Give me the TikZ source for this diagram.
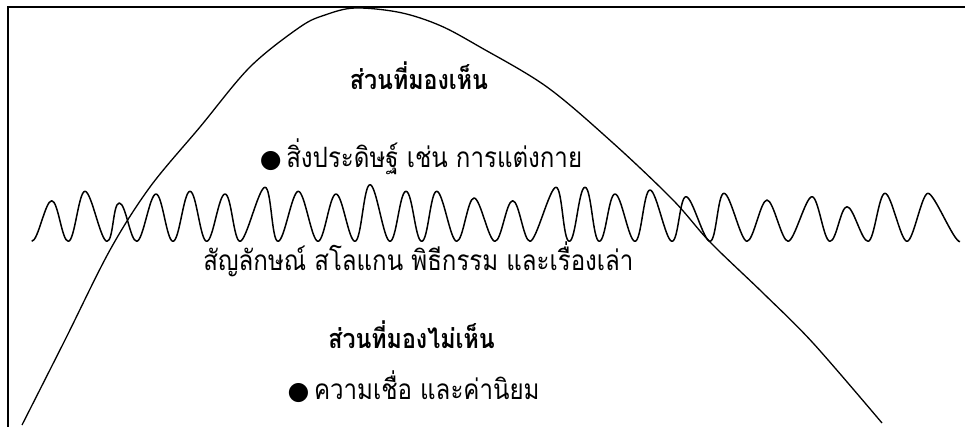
\documentclass[tikz,border=0pt]{standalone}
\usepackage{fontspec}
\newfontfamily\thai[Script=Thai,FakeStretch=0.86]{Loma}
\newfontfamily\dejavu{DejaVu Sans}
\begin{document}
\begin{tikzpicture}[x=1pt,y=-1pt,
  frame/.style={line width=2pt,black},
  bell/.style={line width=1.3pt,black},
  wave/.style={line width=1.5pt,black,line join=round},
  txt/.style={inner sep=0pt,anchor=base,font=\thai\fontsize{28}{32}\selectfont},
  hd/.style={txt,font=\thai\bfseries\fontsize{27}{32}\selectfont},
  dot/.style={font=\dejavu\fontsize{26}{30}\selectfont}]
\useasboundingbox (0,0) rectangle (965,427);
\fill[white] (0,0) rectangle (965,427);
\draw[frame] (8,427) -- (8,7) -- (965,7);
\draw[bell] plot[smooth,tension=0.55] coordinates {(22,425) (65,340) (110,250) (150,187) (200,127) (250,67) (300,27) (325,15) (355,8) (400,12.5) (440,25.5) (480,47) (547,87) (613,143) (673,200) (710,242) (763,293) (813,343) (882,423)};
\draw[wave] (31.7,241.3) \foreach \x/\y in {
 51.7/200.7, 68.3/241.3, 85/191.3, 107/241.3, 119.3/203, 136.7/241.3,
 156/194, 173/241.3, 190/191.3, 206.7/241.3, 225/194, 240/241.3,
 265/187.3, 278/241.3, 298.3/191.3, 318/241.3, 336/194, 355/241.3,
 370/184.7, 390/241.3, 406/191.3, 421.7/241.3, 436.7/191.3, 456.7/241.3,
 474/198, 495/241.3, 512.7/200.7, 530/241.3, 556/187.3, 569.3/241.3,
 585/187.3, 599.3/241.3, 615/194, 635/241.3, 650/190, 672/241.3,
 686/196.7, 710/241.3, 724/193.3, 747/241.3, 767/200, 788/241.3,
 812/196.7, 830/241.3, 847/206.7, 868/241.3, 885/193.3, 907/241.3,
 928/193.3, 960/241.7}{ .. controls +(6.5,0) and +(-6.5,0) .. (\x,\y) };
\node[hd] (h1) at (419,90) {ส่วนที่มองเห็น};
\node[txt] (b1) at (421,168) {{\dejavu\fontsize{25}{30}\selectfont ●}\,สิ่งประดิษฐ์ เช่น การแต่งกาย};
\node[txt] (sym) at (418.5,271) {สัญลักษณ์ สโลแกน พิธีกรรม และเรื่องเล่า};
\node[hd] (h2) at (411.5,348) {ส่วนที่มองไม่เห็น};
\node[txt] (b2) at (413.5,399) {{\dejavu\fontsize{25}{30}\selectfont ●}\,ความเชื่อ และค่านิยม};
\end{tikzpicture}
\end{document}
